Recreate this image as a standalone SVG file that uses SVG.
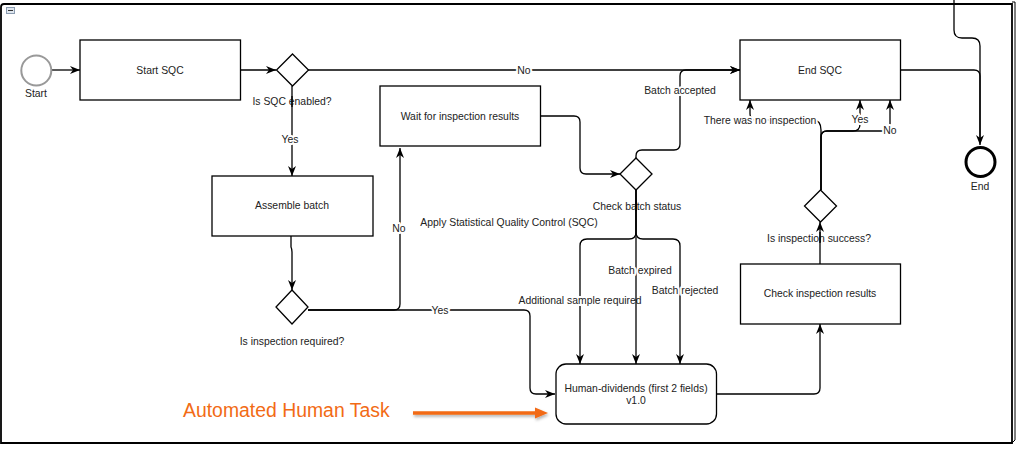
<svg xmlns="http://www.w3.org/2000/svg" width="1021" height="452" viewBox="0 0 1021 452">
<style>
.t{font-family:"Liberation Sans",Arial,sans-serif;font-size:10.4px;fill:#222;text-anchor:middle}
.lb{font-family:"Liberation Sans",Arial,sans-serif;font-size:10.4px;fill:#222;text-anchor:middle;stroke:#fff;stroke-width:4px;paint-order:stroke;stroke-linejoin:round}
.box{fill:#fff;stroke:#000;stroke-width:1.3}
.c{fill:none;stroke:#000;stroke-width:1.3}
.ca{fill:none;stroke:#000;stroke-width:1.3;marker-end:url(#ah)}
</style>
<defs>
<marker id="ah" viewBox="0 0 10 8" refX="10" refY="4" markerWidth="10" markerHeight="8" markerUnits="userSpaceOnUse" orient="auto">
<path d="M0,0 L10,4 L0,8 L3,4 z" fill="#000"/>
</marker>
<filter id="sh" x="-10%" y="-50%" width="120%" height="250%">
<feDropShadow dx="1" dy="2" stdDeviation="1.5" flood-color="#000" flood-opacity="0.3"/>
</filter>
</defs>
<rect width="1021" height="452" fill="#fff"/>
<g id="frame">
<path d="M1,443 V7 Q1,4 4,4 H1012 V443 Z" fill="none" stroke="#000" stroke-width="1.8"/>
<path d="M1012,2 H1015 V440 L1012,443" fill="none" stroke="#000" stroke-width="1"/>
<rect x="6.5" y="7.5" width="8" height="6" fill="#dfe6ee" stroke="#8a9bb0" stroke-width="1"/>
<line x1="8" y1="10.5" x2="13" y2="10.5" stroke="#333" stroke-width="1"/>
</g>
<g id="connectors">
<path class="ca" d="M52,70 H80"/>
<path class="ca" d="M241,70 H276"/>
<path class="ca" d="M308,70 H740"/>
<path class="ca" d="M292,86 V176"/>
<path class="ca" d="M291,236 V247 Q292,249 292,252 V290"/>
<path class="ca" d="M308,310 H394 Q400,310 400,304 V148"/>
<path class="ca" d="M308,310 H524 Q530,310 530,316 V388 Q530,394 536,394 H555"/>
<path class="ca" d="M541,116 H574 Q580,116 580,122 V168 Q580,174 586,174 H620"/>
<path class="ca" d="M636,158 V156 Q636,150 642,150 H674 Q680,150 680,144 V76 Q680,70 686,70 H740"/>
<path class="ca" d="M636,190 V232 Q636,239 629,239 H587 Q580,239 580,246 V364"/>
<path class="ca" d="M636,190 V232 Q636,239 643,239 H673 Q680,239 680,246 V364"/>
<path class="ca" d="M717,394 H814 Q820,394 820,388 V324"/>
<path class="ca" d="M820,264 V222"/>
<path class="ca" d="M821,190 V130 Q821,120 813,120 H756 Q750,120 750,114 V100"/>
<path class="ca" d="M821,190 V137 Q821,131 827,131 H853 Q860,131 860,124 V100"/>
<path class="ca" d="M821,190 V137 Q821,131 827,131 H884 Q890,131 890,125 V100"/>
<path class="ca" d="M901,70 H974 Q980,70 980,76 V145"/>
<path class="c" d="M954,0 V30 Q954,38 962,38 H972 Q980,38 980,46 V140"/>
<text class="lb" x="524" y="73.5">No</text>
<text class="lb" x="290" y="143">Yes</text>
<text class="lb" x="399" y="232">No</text>
<text class="lb" x="440" y="314">Yes</text>
<text class="lb" x="680" y="93.5">Batch accepted</text>
<text class="lb" x="580" y="303.7">Additional sample required</text>
<path class="ca" d="M636,190 V364"/>
<text class="lb" x="640" y="273.7">Batch expired</text>
<text class="lb" x="685" y="293.7">Batch rejected</text>
<text class="lb" x="760" y="123.7">There was no inspection</text>
<text class="lb" x="860" y="123">Yes</text>
<text class="lb" x="890" y="133.5">No</text>
</g>
<g id="start">
<circle cx="36.3" cy="70.5" r="15" fill="#fff" stroke="#999" stroke-width="2"/>
<text class="t" x="36" y="97">Start</text>
</g>
<g id="start-sqc">
<rect class="box" x="80" y="40" width="160.5" height="60"/>
<text class="t" x="160" y="73.7">Start SQC</text>
</g>
<g id="gw-sqc-enabled">
<path class="box" d="M292.5,54 L308.5,70 L292.5,86 L276.5,70 Z"/>
<text class="t" x="292" y="105">Is SQC enabled?</text>
<line x1="292" y1="96" x2="292" y2="107" stroke="#000" stroke-width="1.3"/>
</g>
<g id="assemble-batch">
<rect class="box" x="212" y="176" width="161" height="60"/>
<text class="t" x="292" y="209">Assemble batch</text>
</g>
<g id="gw-inspection-required">
<path class="box" d="M292,290 L308,307 L292,324 L276,307 Z"/>
<text class="t" x="292" y="344.5">Is inspection required?</text>
</g>
<g id="wait-results">
<rect class="box" x="380" y="86" width="160.5" height="60"/>
<text class="t" x="460" y="119.5">Wait for inspection results</text>
</g>
<g id="gw-check-batch">
<path class="box" d="M636,158 L652,174 L636,190 L620,174 Z"/>
<text class="t" x="637" y="209.5">Check batch status</text>
<line x1="636" y1="200" x2="636" y2="211" stroke="#000" stroke-width="1.3"/>
</g>
<g id="sqc-label">
<text class="t" x="509" y="225.5">Apply Statistical Quality Control (SQC)</text>
</g>
<g id="end-sqc">
<rect class="box" x="740" y="40" width="160.5" height="60"/>
<text class="t" x="820" y="73.7">End SQC</text>
</g>
<g id="end">
<circle cx="980.5" cy="162" r="14.5" fill="#fff" stroke="#000" stroke-width="3"/>
<text class="t" x="980" y="189.5">End</text>
</g>
<g id="gw-inspection-success">
<path class="box" d="M820.5,190 L836.5,206 L820.5,222 L804.5,206 Z"/>
<text class="t" x="819" y="241.5">Is inspection success?</text>
<line x1="820" y1="232" x2="820" y2="243" stroke="#000" stroke-width="1.3"/>
</g>
<g id="check-results">
<rect class="box" x="740.5" y="264" width="160" height="60"/>
<text class="t" x="820" y="297">Check inspection results</text>
</g>
<g id="human-task">
<rect class="box" x="556" y="364" width="160.5" height="60" rx="10" ry="10"/>
<text class="t" x="636" y="391.5">Human-dividends (first 2 fields)</text>
<text class="t" x="636" y="404">v1.0</text>
</g>
<g id="annotation">
<text x="183" y="416.7" font-family="Liberation Sans, Arial, sans-serif" font-size="19.4" fill="#f26b15">Automated Human Task</text>
<g filter="url(#sh)">
<line x1="413" y1="413" x2="537" y2="413" stroke="#f26b15" stroke-width="3.5"/>
<path d="M535,407.5 L548,413 L535,418.5 Z" fill="#f26b15"/>
</g>
</g>
</svg>
